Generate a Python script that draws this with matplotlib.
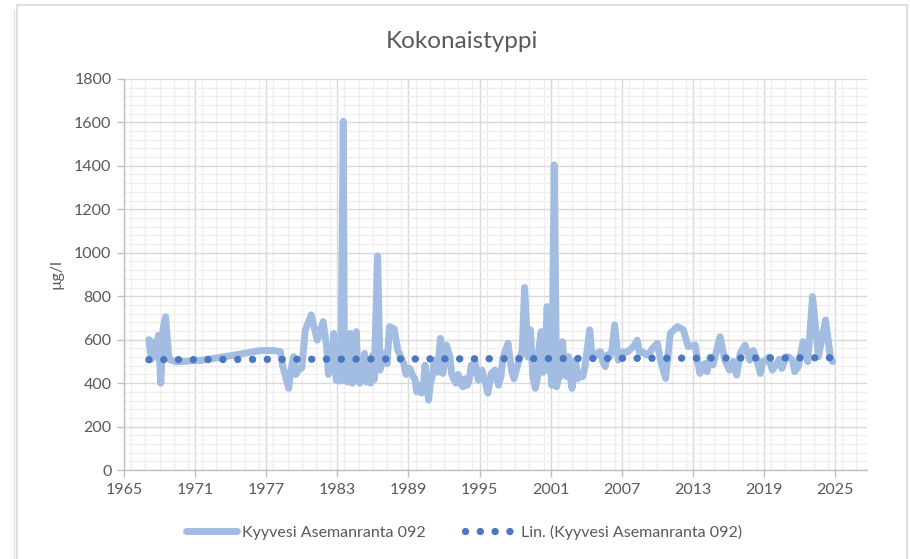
import numpy as np
import matplotlib
matplotlib.use("Agg")
import matplotlib.pyplot as plt
from matplotlib.ticker import MultipleLocator
from matplotlib.patches import Rectangle
from matplotlib.lines import Line2D

plt.rcParams['font.family'] = ['Lato', 'DejaVu Sans']

# Kokonaistyppi, Kyyvesi Asemanranta 092 (decimal year, µg/l)
years = [
    1967.1, 1967.3, 1967.5, 1967.7, 1967.9, 1968.1, 1968.3, 1968.5, 1968.8, 1969.4,
    1971.5, 1974.2, 1976.5, 1977.6, 1978.2, 1978.4, 1978.9, 1979.3, 1979.7, 1980.3,
    1980.8, 1981.3, 1981.8, 1982.1, 1982.4, 1982.7, 1982.9, 1983.5, 1983.6, 1983.75,
    1983.85, 1984.1, 1984.25, 1984.4, 1984.5, 1984.6, 1984.75, 1984.9, 1985.1, 1985.3,
    1985.45, 1985.6, 1985.8, 1986.0, 1986.1, 1986.4, 1986.6, 1987.0, 1987.4, 1987.8,
    1988.1, 1988.6, 1989.1, 1989.4, 1989.7, 1989.9, 1990.1, 1990.4, 1990.7, 1991.0,
    1991.2, 1991.7, 1991.9, 1992.2, 1992.5, 1992.8, 1993.0, 1993.2, 1993.4, 1993.6,
    1993.8, 1994.1, 1994.3, 1994.6, 1994.9, 1995.2, 1995.5, 1995.7, 1996.0, 1996.3,
    1996.6, 1996.8, 1997.0, 1997.4, 1997.7, 1997.9, 1998.1, 1998.6, 1998.8, 1999.1,
    1999.3, 1999.5, 1999.7, 2000.0, 2000.2, 2000.5, 2000.7, 2000.9, 2001.1, 2001.3,
    2001.5, 2001.8, 2002.0, 2002.2, 2002.5, 2002.8, 2003.1, 2003.3, 2003.5, 2003.9,
    2004.3, 2004.7, 2005.2, 2005.6, 2006.0, 2006.4, 2006.7, 2007.1, 2007.5, 2008.0,
    2008.3, 2008.7, 2009.1, 2009.6, 2010.0, 2010.7, 2011.1, 2011.7, 2012.2, 2012.6,
    2013.2, 2013.6, 2014.2, 2014.7, 2015.3, 2015.7, 2016.1, 2016.7, 2017.0, 2017.4,
    2017.8, 2018.4, 2018.7, 2019.1, 2019.7, 2020.1, 2020.5, 2020.9, 2021.4, 2021.6,
    2021.9, 2022.3, 2022.7, 2023.1, 2023.6, 2024.2, 2024.6, 2024.8,
    # denser samples inside the thick parts of the band
    1979.0, 1979.5, 1980.0, 1982.25, 1982.55, 1983.3, 1987.2, 1988.8,
    1989.55, 1990.25, 1990.85, 1991.45, 1992.0, 1992.65, 1993.3, 1993.95,
    1994.45, 1995.05, 1995.85, 1996.45, 1999.9, 2000.35, 2001.65, 2002.35,
    2002.65, 2003.7, 2004.5, 2005.0, 2005.4, 2005.8, 2006.2, 2007.3,
    2007.8, 2008.5, 2009.35, 2010.3, 2013.4, 2014.0, 2014.45, 2016.4,
    2018.1, 2018.9, 2019.4, 2020.3, 2021.1, 2022.5,
]
values = [
    600, 510, 590, 520, 620, 400, 650, 705, 510, 498,
    505, 528, 550, 550, 545, 476, 376, 522, 460, 645,
    714, 598, 683, 568, 460, 629, 414, 1605, 414, 560,
    405, 629, 400, 520, 410, 637, 420, 400, 470, 537,
    405, 450, 400, 530, 415, 985, 460, 537, 660, 650,
    552, 491, 469, 430, 360, 390, 354, 483, 322, 430,
    506, 606, 445, 575, 522, 422, 400, 440, 422, 383,
    420, 406, 483, 506, 414, 460, 400, 354, 445, 460,
    391, 430, 522, 583, 460, 420, 460, 552, 840, 520,
    645, 430, 376, 552, 637, 460, 752, 522, 390, 1404,
    383, 430, 591, 460, 522, 376, 506, 420, 445, 476,
    645, 522, 545, 476, 522, 668, 506, 545, 545, 568,
    598, 545, 530, 560, 583, 422, 629, 660, 645, 568,
    575, 445, 453, 484, 614, 506, 460, 437, 537, 575,
    506, 506, 445, 499, 460, 491, 468, 522, 506, 453,
    476, 591, 499, 798, 522, 691, 522, 499,
    430, 440, 470, 440, 460, 410, 490, 440,
    420, 380, 400, 450, 480, 440, 400, 390,
    450, 420, 400, 420, 430, 450, 420, 430,
    440, 430, 520, 540, 500, 530, 560, 540,
    560, 540, 540, 500, 500, 490, 520, 500,
    550, 500, 520, 510, 520, 560,
]

title = "Kokonaistyppi"
series_name = "Kyyvesi Asemanranta 092"
x_ticks = list(range(1965, 2026, 6))
y_ticks = list(range(0, 1801, 200))

order = np.argsort(years, kind='stable')
years = np.array(years)[order]
values = np.array(values)[order]

# linear trend like Excel's "Lin." trendline
coef = np.polyfit(years, values, 1)
trend_x = np.array([years.min(), years.max()])
trend_y = np.polyval(coef, trend_x)

fig = plt.figure(figsize=(9.1, 5.59), dpi=100)
ax = fig.add_axes([0.1363, 0.159, 0.8165, 0.7])

txt = '#595959'
ax.plot(years, values, color='#a3bde2', lw=5, solid_joinstyle='round',
        solid_capstyle='round', zorder=3)
ax.plot(trend_x, trend_y, color='#4a78c0', lw=5.3, linestyle=(0, (0.01, 2.0)),
        dash_capstyle='round', zorder=4)

ax.set_xlim(1965, 2027.7)
ax.set_ylim(0, 1800)
ax.set_xticks(x_ticks)
ax.set_yticks(y_ticks)
ax.xaxis.set_minor_locator(MultipleLocator(1.2))
ax.yaxis.set_minor_locator(MultipleLocator(40))
ax.grid(which='major', color='#d9d9d9', lw=1.0, zorder=1)
ax.grid(which='minor', color='#eeeeee', lw=0.9, zorder=0)
ax.set_axisbelow(True)

for s in ['top', 'right']:
    ax.spines[s].set_visible(False)
for s in ['left', 'bottom']:
    ax.spines[s].set_color('#bfbfbf')
    ax.spines[s].set_linewidth(1.0)
ax.tick_params(which='major', length=5, width=1, color='#bfbfbf',
               labelsize=11.5, labelcolor=txt, pad=4)
ax.tick_params(which='minor', length=0)

fig.text(462 / 910, 1 - 42 / 559, title, fontsize=17.5, color=txt,
         ha='center', va='center')
ax.set_ylabel("µg/l", fontsize=11.5, color=txt, labelpad=8)

handles = [
    Line2D([], [], color='#a3bde2', lw=5, solid_capstyle='round'),
    Line2D([], [], color='#4a78c0', lw=5.3, linestyle=(0, (0.01, 2.0)),
           dash_capstyle='round'),
]
fig.legend(handles, [series_name, f"Lin. ({series_name})"], loc='center',
           bbox_to_anchor=(0.51, 0.048), ncol=2, frameon=False, fontsize=11.5,
           labelcolor=txt, handlelength=3.2, handletextpad=0.3, columnspacing=2.5)

# chart area border
fig.patches.append(Rectangle((17 / 910, -0.05), 890 / 910, 1 - 5 / 559 + 0.05,
                             transform=fig.transFigure, fill=False,
                             edgecolor='#d9d9d9', lw=1.2))
fig.add_artist(Line2D([14 / 910, 14 / 910], [0, 1 - 10 / 559],
                      transform=fig.transFigure, color='#e3e3e3', lw=1))

fig.savefig("out.png", dpi=100)
